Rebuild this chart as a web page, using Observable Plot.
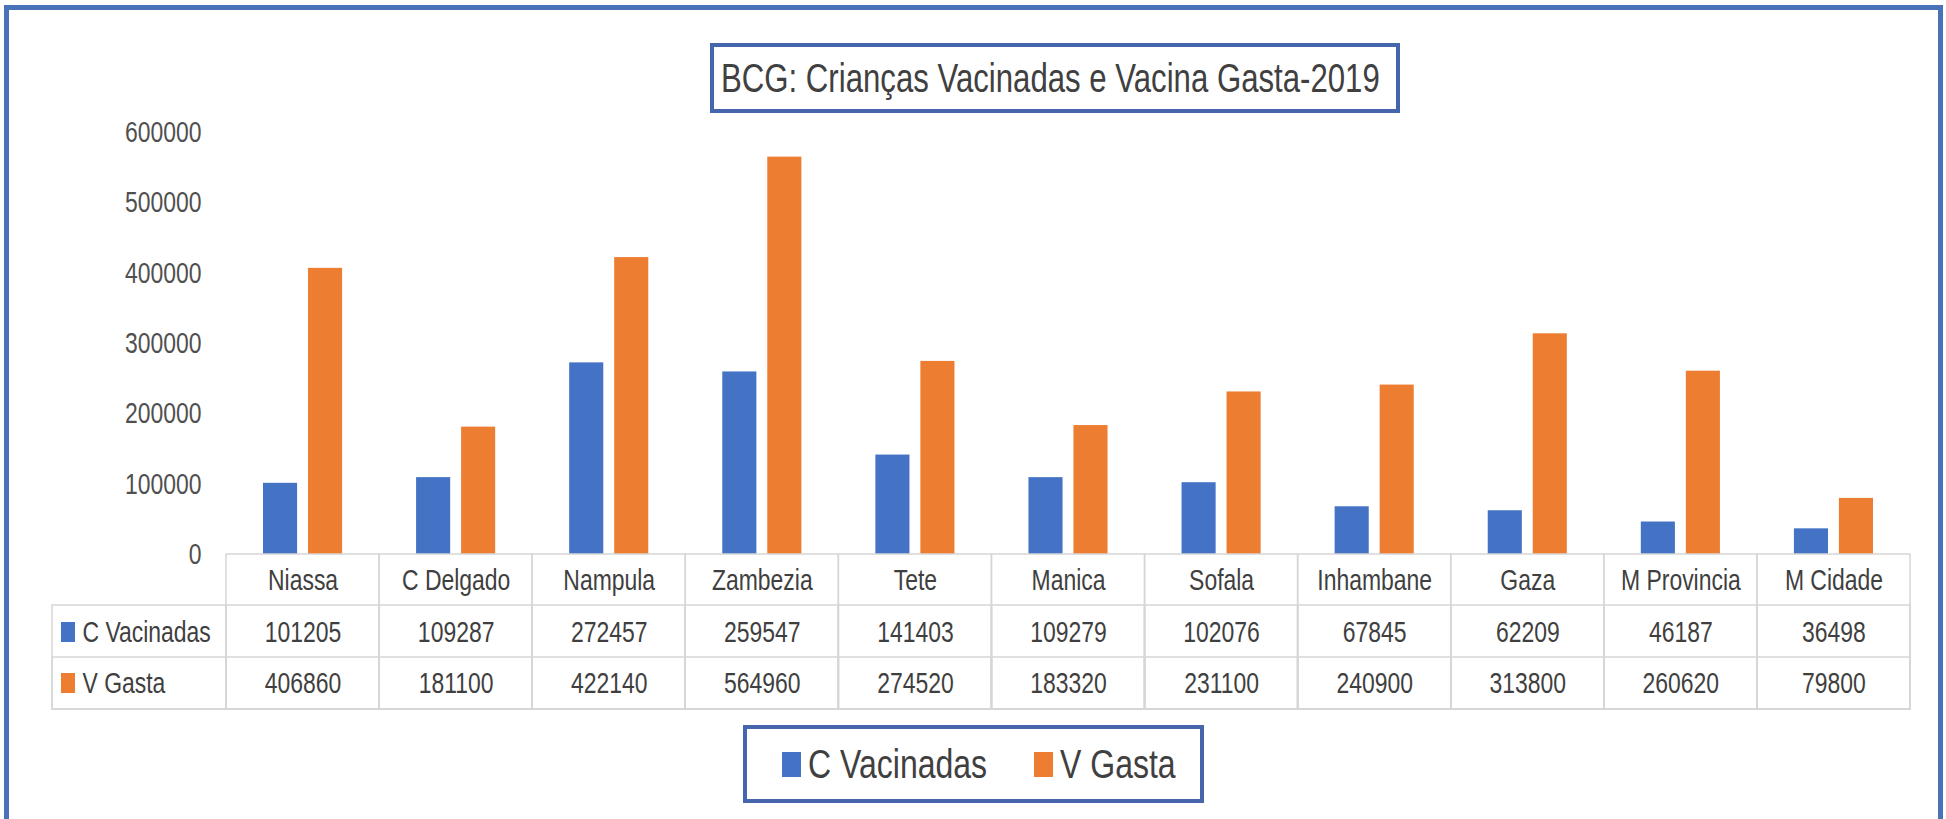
<!DOCTYPE html>
<html><head><meta charset="utf-8">
<script src="https://cdn.jsdelivr.net/npm/d3@7"></script>
<script src="https://cdn.jsdelivr.net/npm/@observablehq/plot@0.6"></script>
<style>
html,body{margin:0;padding:0;background:#fff;}
#wrap{position:relative;width:1946px;height:819px;overflow:hidden;font-family:"Liberation Sans",Arial,sans-serif;color:#404040;}
#chart{position:absolute;left:0;top:0;}
#frame{position:absolute;left:4px;top:5px;width:1939px;height:840px;box-sizing:border-box;border:5px solid #4a72b8;pointer-events:none;}
#title{position:absolute;left:710px;top:43px;width:690px;height:70px;box-sizing:border-box;border:4px solid #4565ad;background:#fff;}
#title span{position:absolute;left:7px;top:0;font-size:41px;line-height:62px;white-space:nowrap;transform:scaleX(0.76);transform-origin:0 50%;}
#legend{position:absolute;left:743px;top:725px;width:461px;height:78px;box-sizing:border-box;border:4px solid #4565ad;background:#fff;}
#legend .sw{position:absolute;top:23px;width:19px;height:25px;}
#legend .lt{position:absolute;top:0;font-size:40px;line-height:70px;white-space:nowrap;transform:scaleX(0.8);transform-origin:0 50%;}
</style></head>
<body>
<div id="wrap">
  <div id="chart"></div>
  <div id="title"></div>
  <div id="legend"></div>
  <div id="frame"></div>
</div>
<script>
// ---- data ----
const provinces = ["Niassa","C Delgado","Nampula","Zambezia","Tete","Manica","Sofala","Inhambane","Gaza","M Provincia","M Cidade"];
const cVacinadas = [101205,109287,272457,259547,141403,109279,102076,67845,62209,46187,36498];
const vGasta = [406860,181100,422140,564960,274520,183320,231100,240900,313800,260620,79800];
const seriesNames = ["C Vacinadas","V Gasta"];
const seriesColors = ["#4472C4","#ED7D31"];
const yTicks = [0,100000,200000,300000,400000,500000,600000];
const titleText = "BCG: Crianças Vacinadas e Vacina Gasta-2019";

const rows = provinces.map((p,i)=>({province:p, cv:cVacinadas[i], vg:vGasta[i]}));

// ---- layout ----
const W=1946, H=819, mL=226, mR=36, mT=132, mB=265;
const plotH = H - mT - mB;           // 422
const colW = (W - mL - mR) / provinces.length;
const rowLine1 = 51, rowLine2 = 103, tableBottom = 155;
const textHeader = 26, textRow1 = 78, textRow2 = 129;
const gridColor = "#d6d6d6";
const fs = 30, squeeze = 0.765;
const txt = {frameAnchor: "bottom", lineAnchor: "middle", fontSize: fs, fill: "#3f3f3f"};

function swatch(i, top) {
  // small coloured key in the row-label column, anchored to the first column band
  return Plot.cell([provinces[0]], {x: d => d, fill: seriesColors[i],
    insetLeft: -165, insetRight: colW + 165 - 14, insetTop: plotH + top, insetBottom: -(top + 20)});
}

const chart = Plot.plot({
  width: W, height: H,
  marginLeft: mL, marginRight: mR, marginTop: mT, marginBottom: mB,
  style: {background:"transparent", fontFamily:'"Liberation Sans",Arial,sans-serif', fontSize: fs + "px", color:"#404040"},
  x: {domain: provinces, padding: 0, round: false, axis: null},
  y: {domain: [0, 600000], axis: null},
  marks: [
    Plot.axisY(yTicks, {tickSize: 0, tickPadding: 25, tickFormat: d => String(d), fontSize: fs, fill: "#505050"}),
    // bars
    Plot.barY(rows, {x: "province", y: "cv", fill: seriesColors[0], insetLeft: 37, insetRight: 82}),
    Plot.barY(rows, {x: "province", y: "vg", fill: seriesColors[1], insetLeft: 82, insetRight: 37}),
    // data table grid
    Plot.cell(provinces, {x: d => d, fill: "none", stroke: gridColor, strokeWidth: 1.5, insetTop: plotH, insetBottom: -tableBottom}),
    Plot.cell(provinces, {x: d => d, fill: "none", stroke: gridColor, strokeWidth: 1.5, insetTop: plotH + rowLine1, insetBottom: -tableBottom}),
    Plot.cell(provinces, {x: d => d, fill: "none", stroke: gridColor, strokeWidth: 1.5, insetTop: plotH + rowLine2, insetBottom: -tableBottom}),
    Plot.cell([provinces[0]], {x: d => d, fill: "none", stroke: gridColor, strokeWidth: 1.5, insetLeft: -174, insetRight: colW, insetTop: plotH + rowLine1, insetBottom: -tableBottom}),
    Plot.cell([provinces[0]], {x: d => d, fill: "none", stroke: gridColor, strokeWidth: 1.5, insetLeft: -174, insetRight: colW, insetTop: plotH + rowLine2, insetBottom: -tableBottom}),
    // table texts
    Plot.text(provinces, {...txt, x: d => d, text: d => d, dy: textHeader}),
    Plot.text(rows, {...txt, x: "province", text: d => String(d.cv), dy: textRow1}),
    Plot.text(rows, {...txt, x: "province", text: d => String(d.vg), dy: textRow2}),
    // row labels
    Plot.text([seriesNames[0]], {...txt, text: d => d, frameAnchor: "bottom-left", textAnchor: "start", dx: -144, dy: textRow1}),
    Plot.text([seriesNames[1]], {...txt, text: d => d, frameAnchor: "bottom-left", textAnchor: "start", dx: -144, dy: textRow2}),
    swatch(0, 68),
    swatch(1, 119)
  ]
});

// condense glyphs horizontally (Calibri-like narrow look), keeping anchor positions
chart.querySelectorAll("text").forEach(t => {
  let tr = t.getAttribute("transform") || "";
  const x = t.getAttribute("x");
  if (x != null && /^-?[\d.]+$/.test(x)) {
    tr = `${tr} translate(${x},0)`;
    t.removeAttribute("x");
  }
  t.setAttribute("transform", `${tr} scale(${squeeze},1)`.trim());
});
document.getElementById("chart").appendChild(chart);

const ts = document.createElement("span");
ts.textContent = titleText;
document.getElementById("title").appendChild(ts);

const legend = document.getElementById("legend");
const swX = [35, 287], txX = [61, 313];
seriesNames.forEach((name, i) => {
  const sw = document.createElement("div");
  sw.className = "sw"; sw.style.left = swX[i] + "px"; sw.style.background = seriesColors[i];
  legend.appendChild(sw);
  const t = document.createElement("div");
  t.className = "lt"; t.style.left = txX[i] + "px"; t.textContent = name;
  legend.appendChild(t);
});
</script>
</body></html>
